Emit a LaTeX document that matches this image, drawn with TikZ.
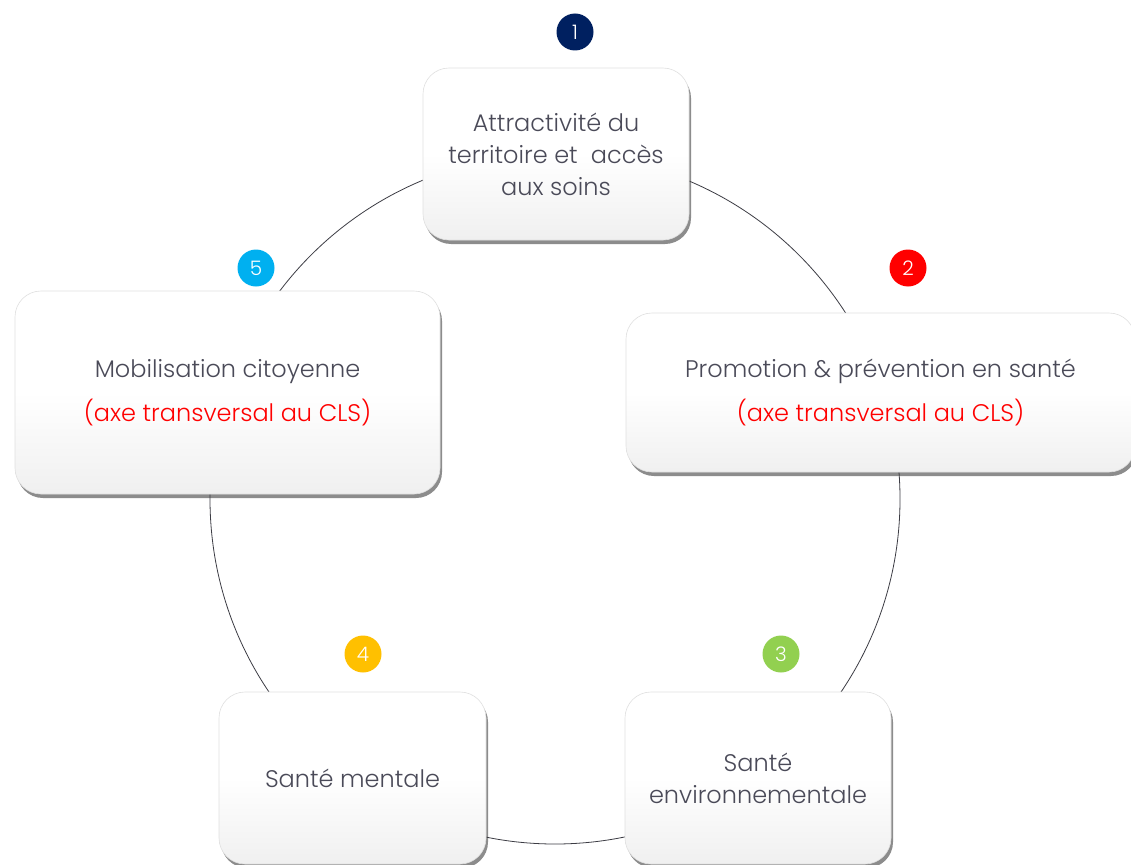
\documentclass[tikz,border=0pt]{standalone}
\usepackage{fontspec}
\setmainfont{Poppins}[UprightFont=* Light]
\usetikzlibrary{shadows}
\definecolor{txt}{HTML}{4A4A58}
\definecolor{ringcol}{HTML}{3C3C44}
\definecolor{c1}{HTML}{002060}
\definecolor{c2}{HTML}{FF0000}
\definecolor{c3}{HTML}{92D050}
\definecolor{c4}{HTML}{FFC000}
\definecolor{c5}{HTML}{00B0F0}
\pgfdeclareverticalshading{boxshade}{100bp}{color(0bp)=(black!14); color(25bp)=(black!6); color(50bp)=(white); color(100bp)=(white)}
\begin{document}
\begin{tikzpicture}[x=1pt,y=-1pt,
  box/.style={rectangle, rounded corners=26pt, shading=boxshade, draw=black!12, line width=0.6pt,
    drop shadow={shadow xshift=2pt, shadow yshift=-4pt, fill=black!75, opacity=0.6},
    text=txt, align=center, font=\fontsize{24}{32}\selectfont, inner sep=0pt},
  num/.style={circle, minimum size=37pt, inner sep=0pt, text=white, font=\fontsize{20}{20}\selectfont},
  ring/.style={draw=ringcol, line width=0.8pt}
]
\useasboundingbox (0,0) rectangle (1131,864);
\fill[white] (0,0) rectangle (1131,864);
\coordinate (c) at (555,499);
\draw[ring] (c) circle[radius=345];

\node[box, minimum width=266pt, minimum height=172pt] (b1) at (556,154)
  {Attractivité du\\territoire et\ \ accès\\aux soins};
\node[box, minimum width=509pt, minimum height=159pt, font=\fontsize{24}{44}\selectfont] (b2) at (880.5,392.5)
  {Promotion \& prévention en santé\\{\color{red}(axe transversal au CLS)}};
\node[box, minimum width=266pt, minimum height=172pt] (b3) at (758,778)
  {Santé\\environnementale};
\node[box, minimum width=267pt, minimum height=172pt] (b4) at (352.5,778)
  {Santé mentale};
\node[box, minimum width=425pt, minimum height=203pt, font=\fontsize{24}{44}\selectfont] (b5) at (227.5,392.5)
  {Mobilisation citoyenne\\{\color{red}(axe transversal au CLS)}};

\node[num, fill=c1] (n1) at (575,32) {1};
\node[num, fill=c2] (n2) at (908,268) {2};
\node[num, fill=c3] (n3) at (781,654) {3};
\node[num, fill=c4] (n4) at (363,654) {4};
\node[num, fill=c5] (n5) at (256,268) {5};
\end{tikzpicture}
\end{document}
